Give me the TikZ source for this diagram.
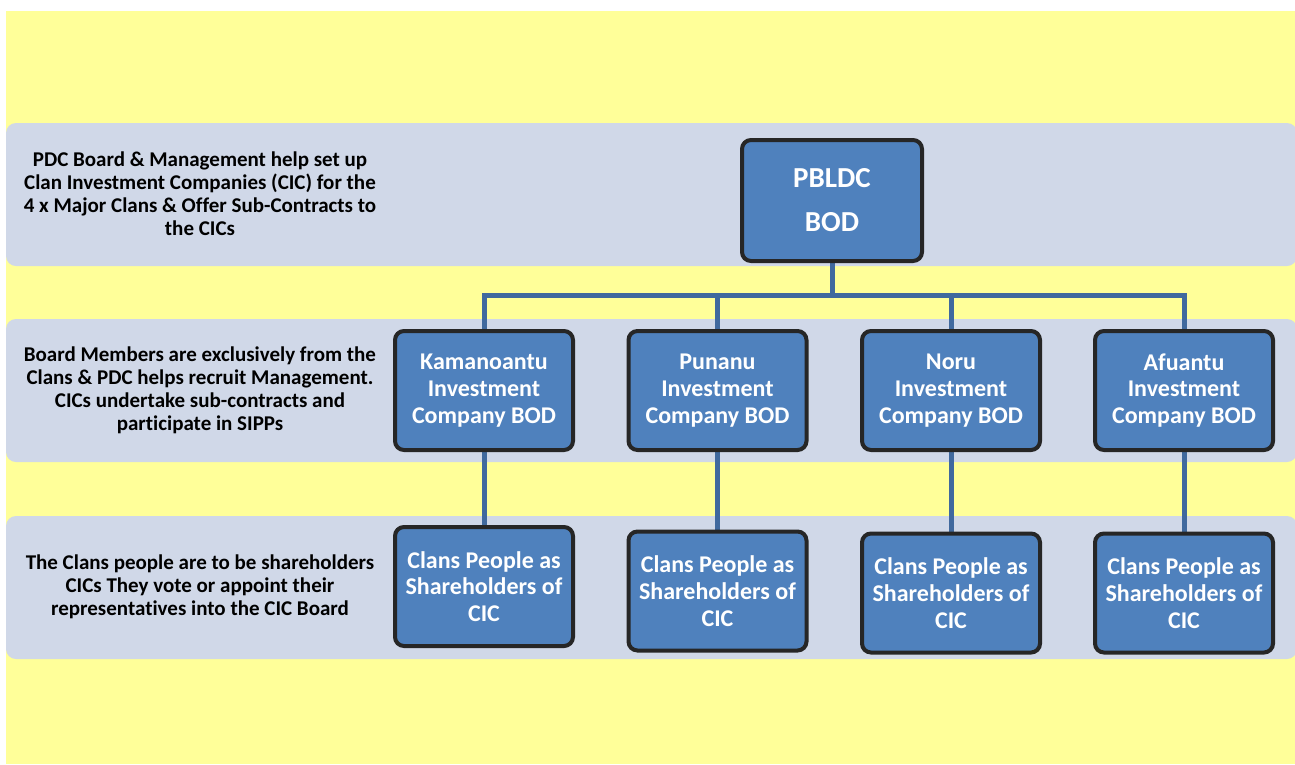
\documentclass[tikz,border=0pt]{standalone}
\usepackage{fontspec}
\setmainfont{Carlito}[Ligatures=NoCommon]
\definecolor{sheet}{RGB}{255,255,153}
\definecolor{bandgray}{RGB}{208,216,232}
\definecolor{boxblue}{RGB}{79,129,189}
\definecolor{boxedge}{RGB}{38,38,38}
\definecolor{linkblue}{RGB}{64,105,158}
\pgfdeclarelayer{bg}
\pgfdeclarelayer{links}
\pgfsetlayers{bg,links,main}
\tikzset{
  band/.style={fill=bandgray, rounded corners=10pt},
  note/.style={align=center, font=\bfseries\fontsize{21}{23}\selectfont},
  orgbox/.style={rectangle, rounded corners=9pt, fill=boxblue, draw=boxedge,
    line width=4pt, text=white, align=center, minimum width=178pt,
    minimum height=119pt, inner sep=0pt, font=\bfseries\fontsize{24}{26.7}\selectfont},
  link/.style={draw=linkblue, line width=5pt}
}
\begin{document}
\begin{tikzpicture}[x=1pt, y=-1pt]
    \useasboundingbox (0,0) rectangle (1295,764);
    \begin{pgfonlayer}{bg}
      \fill[white] (0,0) rectangle (1295,764);
      \fill[sheet] (6,11) rectangle (1295,764);
      \fill[band] (6,123) rectangle (1297,266);
      \fill[band] (6,319) rectangle (1297,462);
      \fill[band] (6,516) rectangle (1297,659);
    \end{pgfonlayer}

    % notes on the left
    \node[note] (note1) at (200,194) {PDC Board \& Management help set up\\
      Clan Investment Companies (CIC) for the\\
      4 x Major Clans \& Offer Sub-Contracts to\\the CICs};
    \node[note] (note2) at (200,390) {Board Members are exclusively from the\\
      Clans \& PDC helps recruit Management.\\
      CICs undertake sub-contracts and\\participate in SIPPs};
    \node[note] (note3) at (200,587) {The Clans people are to be shareholders\\
      CICs They vote or appoint their\\representatives into the CIC Board};

    % top board
    \node[orgbox, minimum width=180pt, minimum height=121pt,
      font=\bfseries\fontsize{29}{44}\selectfont] (pbldc) at (832,200.5) {PBLDC\\BOD};

    % investment companies
    \node[orgbox] (kam) at (484,390.5) {Kamanoantu\\Investment\\Company BOD};
    \node[orgbox] (pun) at (717.5,390.5) {Punanu\\Investment\\Company BOD};
    \node[orgbox] (nor) at (951,390.5) {Noru\\Investment\\Company BOD};
    \node[orgbox] (afu) at (1184,390.5) {Afuantu\\Investment\\Company BOD};

    % shareholders
    \node[orgbox] (kamsh) at (484,586.5) {Clans People as\\Shareholders of\\CIC};
    \node[orgbox] (punsh) at (717.5,591) {Clans People as\\Shareholders of\\CIC};
    \node[orgbox] (norsh) at (951,593) {Clans People as\\Shareholders of\\CIC};
    \node[orgbox] (afush) at (1184,593) {Clans People as\\Shareholders of\\CIC};

    \coordinate (bus) at (0,295);
    \begin{pgfonlayer}{links}
      \foreach \c in {kam,pun,nor,afu} {
        \draw[link] (pbldc.south) -- (pbldc.south |- bus) -| (\c.north);
        \draw[link] (\c.south) -- (\c sh.north);
      }
    \end{pgfonlayer}
\end{tikzpicture}
\end{document}
